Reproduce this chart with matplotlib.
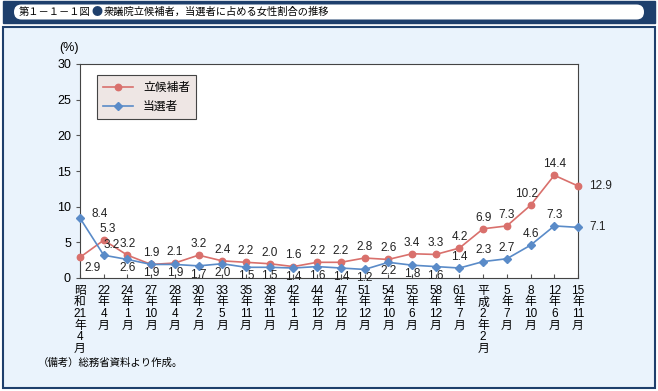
import matplotlib
matplotlib.use("Agg")
import matplotlib.pyplot as plt
from matplotlib.patches import Rectangle, FancyBboxPatch

plt.rcParams['font.family'] = ['Liberation Sans', 'Noto Sans CJK JP']

# 選挙時期
periods = ["昭和21年4月", "22年4月", "24年1月", "27年10月", "28年4月", "30年2月",
           "33年5月", "35年11月", "38年11月", "42年1月", "44年12月", "47年12月",
           "51年12月", "54年10月", "55年6月", "58年12月", "61年7月", "平成2年2月",
           "5年7月", "8年10月", "12年6月", "15年11月"]
# 立候補者に占める女性割合 (%)
candidates = [2.9, 5.3, 3.2, 1.9, 2.1, 3.2, 2.4, 2.2, 2.0, 1.6, 2.2, 2.2,
              2.8, 2.6, 3.4, 3.3, 4.2, 6.9, 7.3, 10.2, 14.4, 12.9]
# 当選者に占める女性割合 (%)
elected = [8.4, 3.2, 2.6, 1.9, 1.9, 1.7, 2.0, 1.5, 1.5, 1.4, 1.6, 1.4,
           1.2, 2.2, 1.8, 1.6, 1.4, 2.3, 2.7, 4.6, 7.3, 7.1]


def vertical_label(s):
    # split into stacked characters, keeping digit runs together
    parts = []
    for ch in s:
        if ch.isdigit() and parts and parts[-1].isdigit():
            parts[-1] += ch
        else:
            parts.append(ch)
    return "\n".join(parts)


red = "#D9706C"
blue = "#5A8BC8"
navy = "#1E3F6C"

fig = plt.figure(figsize=(6.58, 3.91), dpi=100)
W, H = 658, 391

# background shapes go on an axes behind everything
bg = fig.add_axes([0, 0, 1, 1], zorder=-1)
bg.set_xlim(0, W)
bg.set_ylim(H, 0)
bg.axis("off")

# title bar
bg.add_patch(Rectangle((3, 1), 652, 22, facecolor=navy, edgecolor=navy))
bg.add_patch(FancyBboxPatch((14, 4.5), 630, 15,
                            boxstyle="round,pad=0,rounding_size=7.5",
                            mutation_aspect=1, facecolor="white", edgecolor="none"))
bg.text(19, 12, "第１－１－１図", fontsize=7.4, va="center", ha="left",
        family=['Noto Sans CJK JP'])
bg.text(92, 12, "●", fontsize=8, color=navy, va="center", ha="left",
        family=['Noto Sans CJK JP'])
bg.text(104, 12, "衆議院立候補者，当選者に占める女性割合の推移", fontsize=7.4,
        va="center", ha="left", family=['Noto Sans CJK JP'])

# panel
bg.add_patch(Rectangle((3, 27), 652, 361, facecolor="#EAF3FC",
                       edgecolor=navy, linewidth=1.5))

ax = fig.add_axes([80 / W, 113 / H, 498 / W, 214 / H], zorder=2)
ax.set_facecolor("white")
x = list(range(len(periods)))

ax.plot(x, candidates, color=red, marker="o", markersize=4.6, linewidth=1.2,
        label="立候補者", clip_on=False, zorder=3)
ax.plot(x, elected, color=blue, marker="D", markersize=4.2, linewidth=1.2,
        label="当選者", clip_on=False, zorder=3)

ax.set_xlim(0, len(periods) - 1)
ax.set_ylim(0, 30)
ax.set_yticks(range(0, 31, 5))
ax.set_xticks(x)
ax.set_xticklabels([vertical_label(p) for p in periods], fontsize=8.5,
                   linespacing=0.95, va="top")
ax.tick_params(axis="x", direction="in", length=3, pad=5, color="#555")
ax.tick_params(axis="y", direction="out", length=3, labelsize=9, color="#555")
for s in ax.spines.values():
    s.set_color("#444")
    s.set_linewidth(0.8)

# data labels: (dx, dy) in points
cand_off = {0: (9, -8), 1: (3, 8), 2: (0, 8), 19: (-3, 8), 21: (16, 0)}
elec_off = {0: (14, 3), 1: (6, 7), 16: (0, 8), 17: (0, 8), 18: (0, 8),
            19: (0, 8), 20: (0, 8), 21: (14, 0)}
for i, v in enumerate(candidates):
    dx, dy = cand_off.get(i, (0, 8))
    ax.annotate(f"{v:.1f}", (i, v), xytext=(dx, dy), textcoords="offset points",
                ha="center", va="center", fontsize=8.5, color="#222",
                annotation_clip=False, zorder=4)
for i, v in enumerate(elected):
    dx, dy = elec_off.get(i, (0, -6.5))
    ax.annotate(f"{v:.1f}", (i, v), xytext=(dx, dy), textcoords="offset points",
                ha="center", va="center", fontsize=8.5, color="#222",
                annotation_clip=False, zorder=4)

leg = ax.legend(loc="upper left", bbox_to_anchor=(0.022, 0.975),
                frameon=True, fancybox=False, framealpha=1,
                facecolor="#EEE6E4", edgecolor="#444", handlelength=2.6,
                borderpad=0.5, labelspacing=0.5,
                prop={'family': ['Noto Sans CJK JP'], 'size': 8.5})
leg.get_frame().set_linewidth(0.8)

bg.text(69, 48, "(%)", fontsize=9, ha="center", va="center")
bg.text(38, 363, "（備考）総務省資料より作成。", fontsize=7.5,
        ha="left", va="center", family=['Noto Sans CJK JP'])

fig.savefig("out.png", dpi=100)
